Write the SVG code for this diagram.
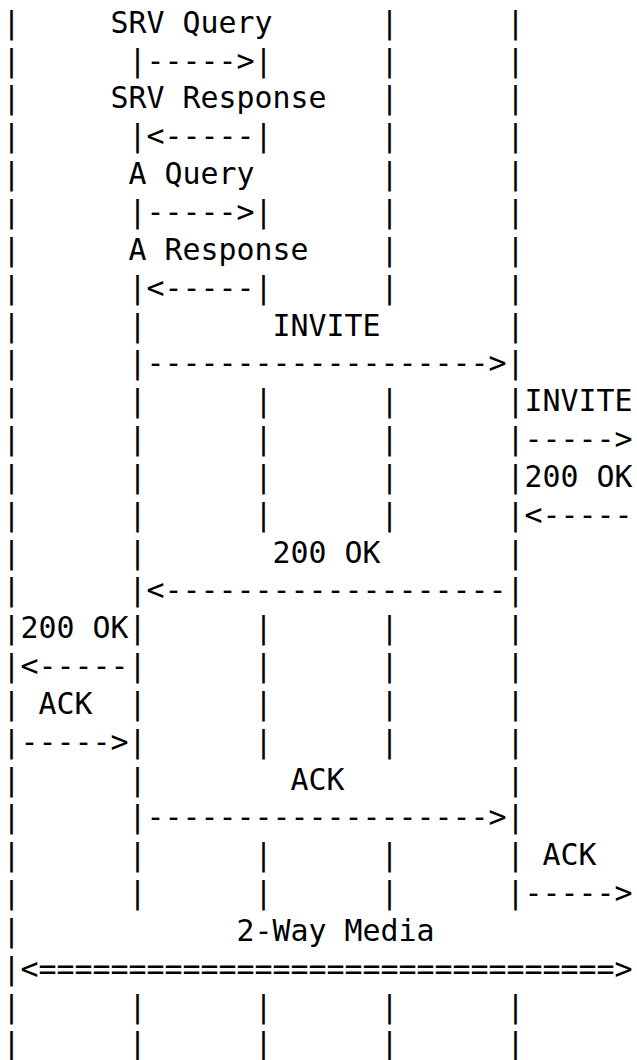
<svg xmlns="http://www.w3.org/2000/svg" width="637" height="1060" viewBox="0 0 637 1060">
<style>
text { font-family: "DejaVu Sans Mono", "Liberation Mono", monospace; font-size: 29.9px; fill: #000; white-space: pre; }
</style>
<rect width="637" height="1060" fill="#fff"/>
<g id="dns-exchange" xml:space="preserve">
<text x="2.6" y="32.8">|     SRV Query      |      |</text>
<text x="2.6" y="70.64">|      |-----&gt;|      |      |</text>
<text x="2.6" y="108.48">|     SRV Response   |      |</text>
<text x="2.6" y="146.32">|      |&lt;-----|      |      |</text>
<text x="2.6" y="184.16">|      A Query       |      |</text>
<text x="2.6" y="222.0">|      |-----&gt;|      |      |</text>
<text x="2.6" y="259.84">|      A Response    |      |</text>
<text x="2.6" y="297.68">|      |&lt;-----|      |      |</text>
</g>
<g id="invite" xml:space="preserve">
<text x="2.6" y="335.52">|      |       INVITE       |</text>
<text x="2.6" y="373.36">|      |-------------------&gt;|</text>
<text x="2.6" y="411.2">|      |      |      |      |INVITE</text>
<text x="2.6" y="449.04">|      |      |      |      |-----&gt;</text>
</g>
<g id="ok" xml:space="preserve">
<text x="2.6" y="486.88">|      |      |      |      |200 OK</text>
<text x="2.6" y="524.72">|      |      |      |      |&lt;-----</text>
<text x="2.6" y="562.56">|      |       200 OK       |</text>
<text x="2.6" y="600.4">|      |&lt;-------------------|</text>
<text x="2.6" y="638.24">|200 OK|      |      |      |</text>
<text x="2.6" y="676.08">|&lt;-----|      |      |      |</text>
</g>
<g id="ack" xml:space="preserve">
<text x="2.6" y="713.92">| ACK  |      |      |      |</text>
<text x="2.6" y="751.76">|-----&gt;|      |      |      |</text>
<text x="2.6" y="789.6">|      |        ACK         |</text>
<text x="2.6" y="827.44">|      |-------------------&gt;|</text>
<text x="2.6" y="865.28">|      |      |      |      | ACK</text>
<text x="2.6" y="903.12">|      |      |      |      |-----&gt;</text>
</g>
<g id="media" xml:space="preserve">
<text x="2.6" y="940.96">|            2-Way Media</text>
<text x="2.6" y="978.8">|&lt;================================&gt;</text>
<text x="2.6" y="1016.64">|      |      |      |      |</text>
<text x="2.6" y="1054.48">|      |      |      |      |</text>
</g>
</svg>
